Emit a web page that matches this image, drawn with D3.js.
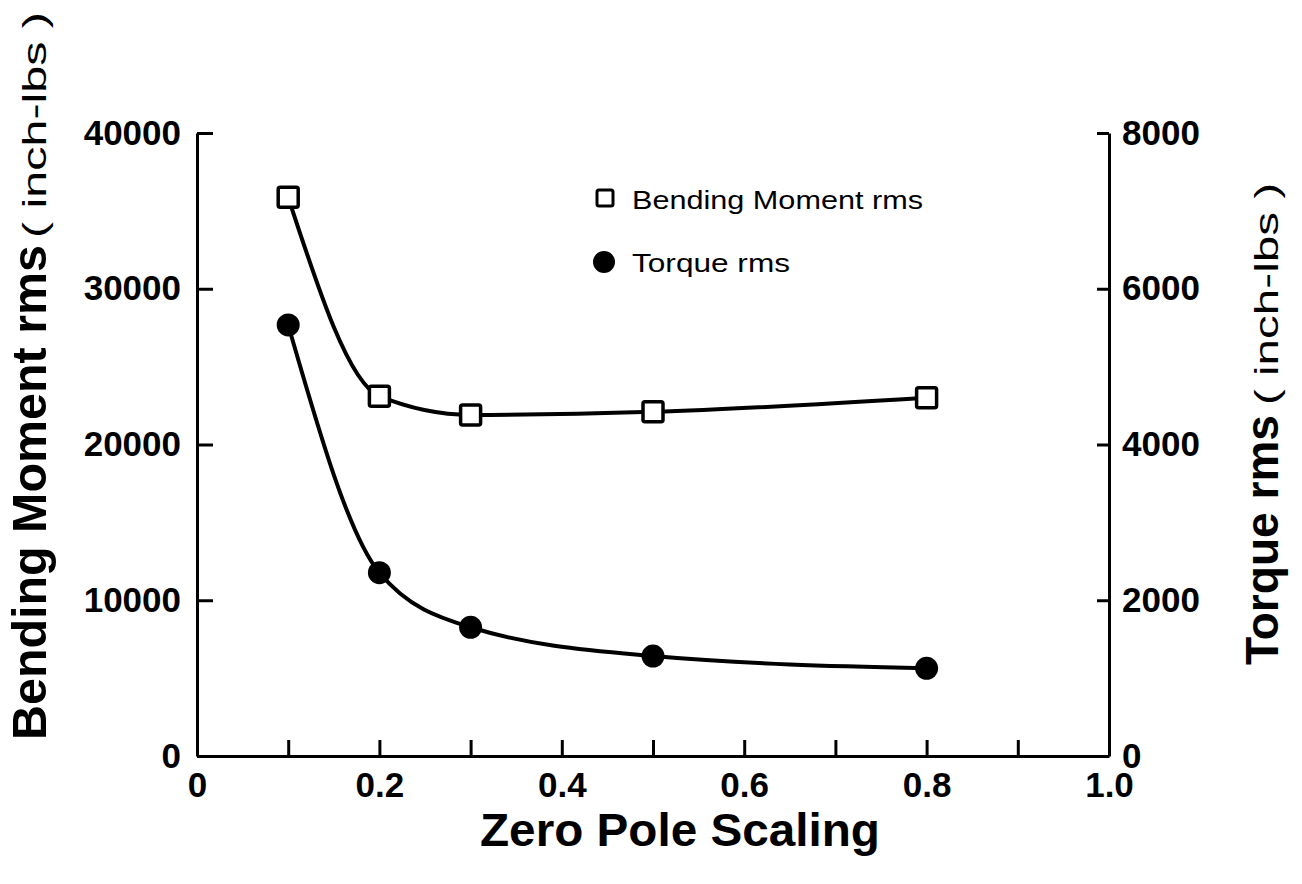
<!DOCTYPE html>
<html>
  <script src='https://d3js.org/d3.v7.min.js'></script>
  <body style="margin:0;background:#fff" onload='init()'>
<script>
      // ---------------------------
      // DATA
      // ---------------------------
      var scalingValues = [0.1, 0.2, 0.3, 0.5, 0.8];
      var bendingMoment = [35870, 23100, 21900, 22100, 23000];
      var torque = [5535, 2354, 1653, 1284, 1126];
      var xTicks = [0, 0.1, 0.2, 0.3, 0.4, 0.5, 0.6, 0.7, 0.8, 0.9, 1.0];
      var xTickLabels = ["0", "", "0.2", "", "0.4", "", "0.6", "", "0.8", "", "1.0"];
      var leftTicks = [0, 10000, 20000, 30000, 40000];
      var rightTicks = [0, 2000, 4000, 6000, 8000];
      var legendNames = ["Bending Moment rms", "Torque rms"];

      function init() {
        // ---------------------------
        // CONSTANTS
        // ---------------------------
        var canvasWidth = 1302;
        var canvasHeight = 884;
        var plotLeft = 197, plotRight = 1109, plotTop = 133, plotBottom = 756;
        var myFont = "'Liberation Sans', Arial, Helvetica, sans-serif";
        var tickFontSize = 35;
        var titleFontSize = 46;

        var svg = d3.select("body")
          .append("svg")
          .attr("id", "chart")
          .attr("width", canvasWidth)
          .attr("height", canvasHeight)
          .style("background", "#fff");

        // scales
        var x_scale = d3.scaleLinear().domain([0, 1]).range([plotLeft, plotRight]);
        var bm_scale = d3.scaleLinear().domain([0, 40000]).range([plotBottom, plotTop]);
        var tq_scale = d3.scaleLinear().domain([0, 8000]).range([plotBottom, plotTop]);

        function styleAxis(g) {
          g.selectAll("path, line").attr("stroke", "#000").attr("stroke-width", 3);
          g.selectAll("text")
            .attr("font-family", myFont)
            .attr("font-size", tickFontSize)
            .attr("font-weight", "bold")
            .attr("fill", "#000");
        }

        // x-axis (ticks point up, inward)
        svg.append("g")
          .attr("transform", "translate(0," + plotBottom + ")")
          .call(d3.axisBottom(x_scale)
                .tickValues(xTicks)
                .tickFormat(function(d, i) { return xTickLabels[i]; })
                .tickSizeInner(-16).tickSizeOuter(0).tickPadding(16))
          .call(styleAxis);

        // left y-axis
        svg.append("g")
          .attr("transform", "translate(" + plotLeft + ",0)")
          .call(d3.axisLeft(bm_scale)
                .tickValues(leftTicks)
                .tickFormat(d3.format("d"))
                .tickSizeInner(-16).tickSizeOuter(0).tickPadding(16))
          .call(styleAxis);

        // right y-axis
        svg.append("g")
          .attr("transform", "translate(" + plotRight + ",0)")
          .call(d3.axisRight(tq_scale)
                .tickValues(rightTicks)
                .tickFormat(d3.format("d"))
                .tickSizeInner(-12).tickSizeOuter(0).tickPadding(13))
          .call(styleAxis);

        // titles
        svg.append("text")
          .attr("text-anchor", "start")
          .attr("x", 480)
          .attr("y", 846)
          .attr("font-family", myFont)
          .attr("font-size", titleFontSize)
          .attr("font-weight", "bold")
          .attr("textLength", 400)
          .attr("lengthAdjust", "spacingAndGlyphs")
          .text("Zero Pole Scaling");

        // left title -- bold part + unit part
        svg.append("text")
          .attr("transform", "translate(46,740) rotate(-90)")
          .attr("font-family", myFont)
          .attr("font-size", 48)
          .attr("font-weight", "bold")
          .attr("textLength", 495)
          .attr("lengthAdjust", "spacingAndGlyphs")
          .text("Bending Moment rms");
        svg.append("text")
          .attr("transform", "translate(46,238) rotate(-90)")
          .attr("font-family", myFont)
          .attr("font-size", 34)
          .attr("textLength", 226)
          .attr("lengthAdjust", "spacingAndGlyphs")
          .text("( inch-lbs )");

        // right title
        svg.append("text")
          .attr("transform", "translate(1278,665) rotate(-90)")
          .attr("font-family", myFont)
          .attr("font-size", titleFontSize)
          .attr("font-weight", "bold")
          .attr("textLength", 250)
          .attr("lengthAdjust", "spacingAndGlyphs")
          .text("Torque rms");
        svg.append("text")
          .attr("transform", "translate(1278,405) rotate(-90)")
          .attr("font-family", myFont)
          .attr("font-size", 34)
          .attr("textLength", 222)
          .attr("lengthAdjust", "spacingAndGlyphs")
          .text("( inch-lbs )");

        // ---------------------------
        // LINES
        // ---------------------------
        var bmLine = d3.line()
          .x(function(d, i) { return x_scale(scalingValues[i]); })
          .y(function(d) { return bm_scale(d); })
          .curve(d3.curveMonotoneX);
        var tqLine = d3.line()
          .x(function(d, i) { return x_scale(scalingValues[i]); })
          .y(function(d) { return tq_scale(d); })
          .curve(d3.curveMonotoneX);

        svg.append("path")
          .attr("d", bmLine(bendingMoment))
          .attr("fill", "none").attr("stroke", "#000").attr("stroke-width", 4);
        svg.append("path")
          .attr("d", tqLine(torque))
          .attr("fill", "none").attr("stroke", "#000").attr("stroke-width", 4);

        // markers
        svg.append("g").selectAll("rect")
          .data(bendingMoment)
          .enter()
          .append("rect")
          .attr("x", function(d, i) { return x_scale(scalingValues[i]) - 10; })
          .attr("y", function(d) { return bm_scale(d) - 10; })
          .attr("width", 20).attr("height", 20)
          .attr("rx", 2)
          .attr("fill", "#fff").attr("stroke", "#000").attr("stroke-width", 3.5);

        svg.append("g").selectAll("circle")
          .data(torque)
          .enter()
          .append("circle")
          .attr("cx", function(d, i) { return x_scale(scalingValues[i]); })
          .attr("cy", function(d) { return tq_scale(d); })
          .attr("r", 11.5)
          .attr("fill", "#000");

        // ---------------------------
        // LEGEND
        // ---------------------------
        var legendLengths = [291, 158];
        var legend = svg.append("g");
        legend.append("rect")
          .attr("x", 597).attr("y", 190).attr("width", 16).attr("height", 16).attr("rx", 2)
          .attr("fill", "#fff").attr("stroke", "#000").attr("stroke-width", 3);
        legend.append("circle")
          .attr("cx", 604).attr("cy", 262).attr("r", 11).attr("fill", "#000");
        legend.selectAll("text.leg")
          .data(legendNames)
          .enter()
          .append("text")
          .attr("class", "leg")
          .attr("x", 632)
          .attr("y", function(d, i) { return 209 + i * 63; })
          .attr("font-family", myFont)
          .attr("font-size", 25)
          .attr("fill", "#000")
          .attr("textLength", function(d, i) { return legendLengths[i]; })
          .attr("lengthAdjust", "spacingAndGlyphs")
          .text(function(d) { return d; });
      }
    </script>
  </body>
</html>
